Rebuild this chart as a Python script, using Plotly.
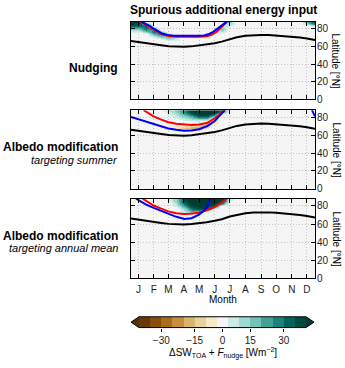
import plotly.graph_objects as go
from plotly.colors import diverging, make_colorscale, sample_colorscale

# ---- axes ----
month_days = [15, 45, 74, 105, 135, 166, 196, 227, 258, 288, 319, 349]
month_labels = ["J", "F", "M", "A", "M", "J", "J", "A", "S", "O", "N", "D"]
lat_ticks = [0, 20, 40, 60, 80]

# contour levels of the colour bar (no level at 0)
levels = [-40, -35, -30, -25, -20, -15, -10, -5, 5, 10, 15, 20, 25, 30, 35, 40]
cbar_tick_pos = [2, 5, 7.5, 10, 13]
cbar_tick_text = ["\u221230", "\u221215", "0", "15", "30"]

# ---- energy input fields, rows from north (89N) to south (62N) ----
grid_days = [0, 15, 30, 45, 60, 75, 90, 105, 120, 135, 150, 165, 180, 195, 210, 335, 350, 365]
grid_lats = [89, 86, 83, 80, 77, 74, 71, 68, 65, 62]

nudging_z = [
    [42, 40, 0, 0, 0, 0, 0, 0, 0, 0, 0, 0, 0, 20, 0, 0, 25, 42],
    [40, 38, 15, 0, 0, 0, 0, 0, 0, 0, 0, 0, 0, 14, 0, 0, 12, 30],
    [32, 30, 32, 0, 0, 0, 0, 0, 0, 0, 0, 0, 6, 7, 0, 0, 0, 8],
    [18, 18, 30, 22, 0, 0, 0, 0, 0, 0, 0, 0, 18, 0, 0, 0, 0, 0],
    [6, 6, 15, 30, 14, 0, 0, 0, 0, 0, 0, -8, 10, 0, 0, 0, 0, 0],
    [0, 0, 0, 22, 28, 10, 0, 0, 0, 0, -7, -10, 0, 0, 0, 0, 0, 0],
    [0, 0, 0, 6, 16, 20, 10, -6, -8, -10, -10, 0, 0, 0, 0, 0, 0, 0],
    [0, 0, 0, 0, 0, 10, 8, 0, 0, 0, 0, 0, 0, 0, 0, 0, 0, 0],
    [0, 0, 0, 0, 0, 0, 0, 0, 0, 0, 0, 0, 0, 0, 0, 0, 0, 0],
    [0, 0, 0, 0, 0, 0, 0, 0, 0, 0, 0, 0, 0, 0, 0, 0, 0, 0],
]

summer_z = [
    [0, 0, 0, 0, 6, 12, 18, 28, 40, 45, 45, 45, 40, 8, 0, 0, 0, 0],
    [0, 0, 0, 0, 0, 8, 14, 25, 38, 45, 45, 42, 25, 0, 0, 0, 0, 0],
    [0, 0, 0, 0, 0, 6, 10, 20, 30, 42, 42, 32, -6, 0, 0, 0, 0, 0],
    [0, 0, 0, 0, 0, 0, 7, 12, 18, 28, 28, 8, -6, 0, 0, 0, 0, 0],
    [0, 0, 0, 0, 0, 0, 0, 6, 7, 8, 6, -15, 0, 0, 0, 0, 0, 0],
    [0, 0, 0, 0, 0, 0, 0, 0, 0, 0, -12, -10, 0, 0, 0, 0, 0, 0],
    [0, 0, 0, 0, 0, -6, -7, -8, -10, -12, -22, 0, 0, 0, 0, 0, 0, 0],
    [0, 0, 0, 0, 0, -6, -8, -14, -18, -20, -7, 0, 0, 0, 0, 0, 0, 0],
    [0, 0, 0, 0, 0, 0, 0, -6, -6, 0, 0, 0, 0, 0, 0, 0, 0, 0],
    [0, 0, 0, 0, 0, 0, 0, 0, 0, 0, 0, 0, 0, 0, 0, 0, 0, 0],
]

annual_z = [
    [0, 0, 0, 0, 0, 6, 14, 35, 45, 45, 45, 45, 45, 12, 0, 0, 0, 0],
    [0, 0, 0, 0, 0, 6, 14, 35, 45, 45, 45, 45, 42, 6, 0, 0, 0, 0],
    [0, 0, 0, 0, 0, 0, 10, 30, 42, 45, 45, 42, 25, 0, 0, 0, 0, 0],
    [0, 0, 0, 0, 0, 0, 7, 22, 38, 42, 42, 35, 0, 0, 0, 0, 0, 0],
    [0, 0, 0, 0, 0, 0, 0, 12, 28, 38, 32, 6, 0, 0, 0, 0, 0, 0],
    [0, 0, 0, 0, 0, 0, 0, 7, 18, 15, 0, 0, 0, 0, 0, 0, 0, 0],
    [0, 0, 0, 0, 0, 0, 0, 0, 0, 0, 0, 0, 0, 0, 0, 0, 0, 0],
    [0, 0, 0, 0, 0, 0, 0, 0, 0, 0, 0, 0, 0, 0, 0, 0, 0, 0],
    [0, 0, 0, 0, 0, 0, 0, 0, 0, 0, 0, 0, 0, 0, 0, 0, 0, 0],
    [0, 0, 0, 0, 0, 0, 0, 0, 0, 0, 0, 0, 0, 0, 0, 0, 0, 0],
]

# ---- ice edge lines (day of year, latitude) ----
obs_day = [0, 15, 30, 45, 60, 75, 90, 105, 120, 135, 150, 166, 180, 196, 210,
           227, 243, 258, 273, 288, 304, 319, 335, 349, 365]
obs_lat = [66.2, 64.8, 63.4, 62.2, 61.3, 60.2, 59.6, 59.5, 60.0, 60.9, 62.0, 63.6,
           65.4, 68.4, 70.4, 72.0, 72.8, 73.0, 72.9, 72.4, 71.8, 71.1, 70.0, 68.8, 67.2]

red1_day = [17, 25, 35, 45, 55, 65, 75, 90, 105, 120, 135, 150, 160, 170, 178, 185, 191]
red1_lat = [88, 86, 82.5, 78.5, 75.5, 73, 71.8, 71, 70.8, 70.8, 71, 71.5, 73, 76.5, 80.5, 84.5, 88]
blue1_day = [20, 28, 38, 45, 52, 62, 72, 85, 100, 115, 130, 145, 155, 163, 170, 177, 184, 190]
blue1_lat = [88, 86, 83, 80, 77.5, 74.5, 73, 72, 72, 71.8, 72, 72.3, 74, 76.5, 79.5, 82.5, 85.5, 88]

red2_day = [25, 35, 45, 60, 74, 90, 105, 120, 135, 152, 166, 178, 186]
red2_lat = [88, 84, 81, 77.5, 74.5, 72.8, 71.8, 71.5, 72, 74, 79, 84.5, 88]
blue2_day = [0, 15, 30, 45, 60, 74, 90, 105, 120, 135, 152, 166, 178, 186, None, 359, 362, 365]
blue2_lat = [80.5, 77.7, 75, 72.3, 69.8, 67.5, 66, 65, 65.2, 66.7, 70.4, 75.9, 83, 88, None, 88, 84.5, 81]

red3_day = [23, 35, 45, 60, 74, 90, 105, 118, 135, 150, 166, 178, 190]
red3_lat = [88, 84, 80.5, 77, 74, 72, 71, 71.3, 72.5, 75.3, 78.7, 83, 88]
blue3_day = [10, 20, 30, 45, 60, 74, 90, 106, 120, 135, 145, 152, 157]
blue3_lat = [88, 84.5, 81.5, 77.8, 74.5, 71.6, 68, 65.5, 66.5, 70.5, 75, 79.6, 88]

panels = [
    (nudging_z, red1_day, red1_lat, blue1_day, blue1_lat),
    (summer_z, red2_day, red2_lat, blue2_day, blue2_lat),
    (annual_z, red3_day, red3_lat, blue3_day, blue3_lat),
]

# ---- colours: BrBG sampled at the layer midpoints, extensions at the ends ----
brbg = make_colorscale(diverging.BrBG)
mids = [(a + b) / 2 for a, b in zip(levels[:-1], levels[1:])]
pos = [0.0] + [(m - levels[0]) / (levels[-1] - levels[0]) for m in mids] + [1.0]
seg_colors = sample_colorscale(brbg, pos)
zlo, zhi = -45, 45
bounds = [zlo] + levels + [zhi]


def step_scale(colors):
    scale = []
    for i, c in enumerate(colors):
        scale.append([(bounds[i] - zlo) / (zhi - zlo), c])
        scale.append([(bounds[i + 1] - zlo) / (zhi - zlo), c])
    return scale


map_colors = list(seg_colors)
map_colors[8] = "rgba(245,245,245,0)"  # near-zero band shows the background
map_scale = step_scale(map_colors)
bar_scale = step_scale(seg_colors)

FONT = "Liberation Sans"
xdom = [131 / 345, 315 / 345]
ydoms = [[1 - 101 / 368, 1 - 22 / 368],
         [1 - 192 / 368, 1 - 112 / 368],
         [1 - 283 / 368, 1 - 202 / 368]]
cb_x = [139 / 345, 306 / 345]
cb_y = [1 - 333 / 368, 1 - 322 / 368]

fig = go.Figure()
layout = {}
for i, (z, rd, rl, bd, bl) in enumerate(panels):
    n = i + 1
    xa, ya = ("x%d" % n if n > 1 else "x"), ("y%d" % n if n > 1 else "y")
    fig.add_trace(go.Heatmap(
        x=grid_days, y=grid_lats[::-1], z=z[::-1],
        colorscale=map_scale, zmin=zlo, zmax=zhi, zsmooth="best",
        showscale=False, hoverinfo="skip", xaxis=xa, yaxis=ya))
    fig.add_trace(go.Scatter(x=obs_day, y=obs_lat, mode="lines",
                             line=dict(color="black", width=2), xaxis=xa, yaxis=ya))
    fig.add_trace(go.Scatter(x=rd, y=rl, mode="lines",
                             line=dict(color="#ff0000", width=2), xaxis=xa, yaxis=ya))
    fig.add_trace(go.Scatter(x=bd, y=bl, mode="lines",
                             line=dict(color="#0000ff", width=2), xaxis=xa, yaxis=ya))
    axis_common = dict(showline=True, linecolor="black", linewidth=1, mirror="allticks",
                       ticks="inside", ticklen=4, tickwidth=1, tickcolor="black",
                       showgrid=True, gridcolor="#c4c4c4", gridwidth=1, griddash="1px,2px",
                       zeroline=False, tickfont=dict(family=FONT, size=10, color="#222"))
    layout["xaxis%d" % n if n > 1 else "xaxis"] = dict(
        axis_common, domain=xdom, range=[0, 365], anchor=ya, ticklabelstandoff=2,
        tickmode="array", tickvals=month_days, ticktext=month_labels,
        showticklabels=(n == 3))
    layout["yaxis%d" % n if n > 1 else "yaxis"] = dict(
        axis_common, domain=ydoms[i], range=[0, 88], anchor=xa, side="right",
        ticklabelstandoff=-1, tickmode="array", tickvals=lat_ticks)

# colour bar as its own little subplot
fig.add_trace(go.Heatmap(
    x=[k + 0.5 for k in range(len(mids))], y=[0.5], z=[mids],
    colorscale=bar_scale, zmin=zlo, zmax=zhi, showscale=False,
    hoverinfo="skip", xaxis="x4", yaxis="y4"))
layout["xaxis4"] = dict(domain=cb_x, range=[0, len(mids)], anchor="y4",
                        tickmode="array", tickvals=cbar_tick_pos, ticktext=cbar_tick_text,
                        ticks="outside", ticklen=3, tickcolor="black", showgrid=False,
                        zeroline=False, showline=False,
                        tickfont=dict(family=FONT, size=10, color="#222"))
layout["yaxis4"] = dict(domain=cb_y, range=[0, 1], anchor="x4", visible=False)

ymid = (cb_y[0] + cb_y[1]) / 2
tip = 8 / 345
shapes = [
    dict(type="path", xref="paper", yref="paper", fillcolor=seg_colors[0], line=dict(width=0),
         path="M %f,%f L %f,%f L %f,%f Z" % (cb_x[0], cb_y[0], cb_x[0] - tip, ymid, cb_x[0], cb_y[1])),
    dict(type="path", xref="paper", yref="paper", fillcolor=seg_colors[-1], line=dict(width=0),
         path="M %f,%f L %f,%f L %f,%f Z" % (cb_x[1], cb_y[0], cb_x[1] + tip, ymid, cb_x[1], cb_y[1])),
    dict(type="path", xref="paper", yref="paper", line=dict(color="black", width=1),
         path="M %f,%f L %f,%f L %f,%f L %f,%f L %f,%f L %f,%f Z" % (
             cb_x[0], cb_y[0], cb_x[1], cb_y[0], cb_x[1] + tip, ymid,
             cb_x[1], cb_y[1], cb_x[0], cb_y[1], cb_x[0] - tip, ymid)),
]


def note(text, x, y, size, xanchor="center", angle=0, bold=False, italic=False):
    if bold:
        text = "<b>%s</b>" % text
    if italic:
        text = "<i>%s</i>" % text
    return dict(text=text, x=x, y=y, xref="paper", yref="paper", showarrow=False,
                xanchor=xanchor, yanchor="middle", textangle=angle,
                font=dict(family=FONT, size=size, color="black"))


lx = 120 / 345
annotations = [
    note("Spurious additional energy input", 223 / 345, 1 - 10 / 368, 12, bold=True),
    note("Nudging", lx, 1 - 69 / 368, 12, xanchor="right", bold=True),
    note("Albedo modification", lx, 1 - 149 / 368, 12, xanchor="right", bold=True),
    note("targeting summer", lx, 1 - 162.5 / 368, 11, xanchor="right", italic=True),
    note("Albedo modification", lx, 1 - 240 / 368, 12, xanchor="right", bold=True),
    note("targeting annual mean", lx, 1 - 252.5 / 368, 11, xanchor="right", italic=True),
    note("Month", 223 / 345, 1 - 304 / 368, 10),
    note("\u0394SW<sub>TOA</sub> + <i>F</i><sub>nudge</sub> [Wm<sup>\u22122</sup>]",
         223 / 345, 1 - 359 / 368, 10),
]
for d in ydoms:
    annotations.append(note("Latitude [\u00b0N]", 336 / 345, (d[0] + d[1]) / 2, 10, angle=90))

fig.update_layout(
    width=345, height=368, margin=dict(l=0, r=0, t=0, b=0),
    paper_bgcolor="white", plot_bgcolor="#f5f5f5", showlegend=False,
    shapes=shapes, annotations=annotations, **layout)

# the page body has a default 8px margin; remove it so the figure fills the window
fig.write_html("out.html", config={"displayModeBar": False},
               post_script="document.body.style.margin='0';")
